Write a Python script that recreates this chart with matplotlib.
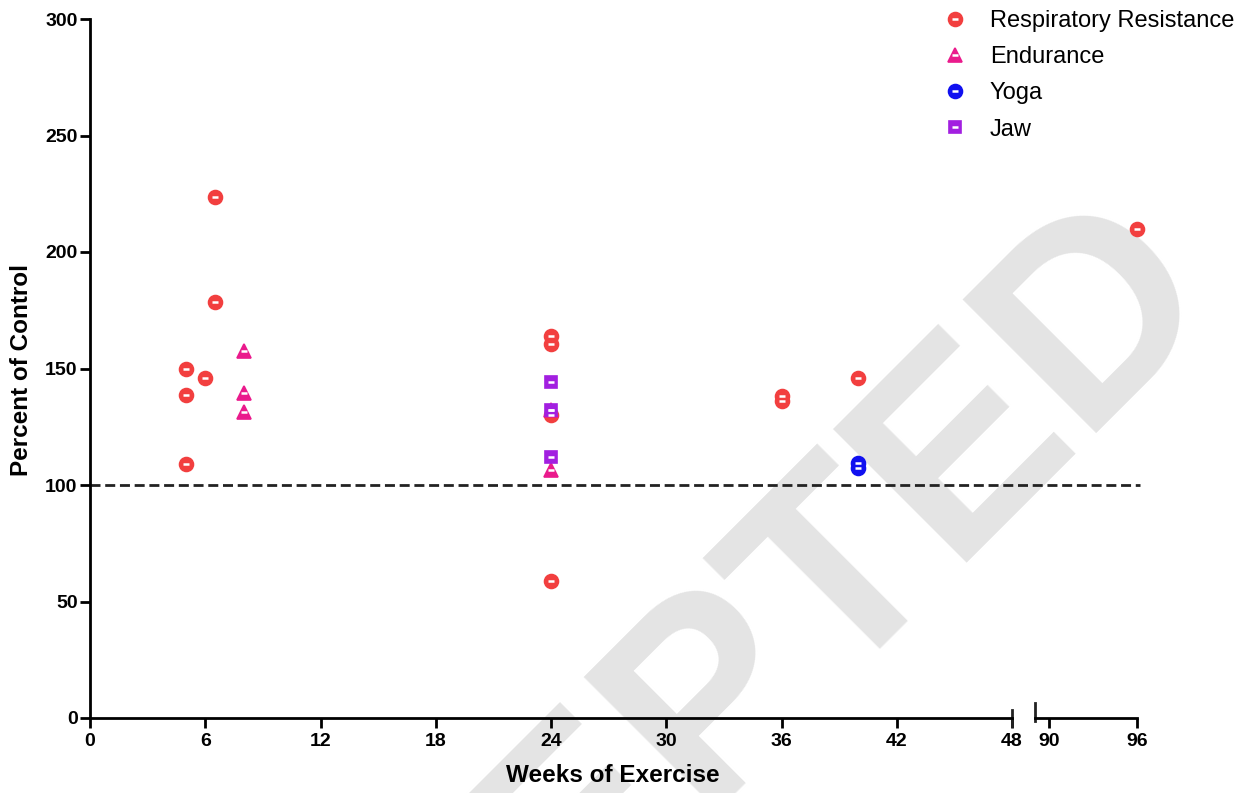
import matplotlib.pyplot as plt
from matplotlib.legend_handler import HandlerTuple

plt.rcParams['font.family'] = ['Liberation Sans', 'DejaVu Sans']

# weeks, percent of control
resp_x = [5, 5, 5, 6, 6.5, 6.5, 24, 24, 24, 24, 36, 36, 40]
resp_y = [150, 138.5, 109, 146, 223.5, 178.5, 164, 160.5, 130, 59, 138, 136, 146]
resp_x2 = [96]
resp_y2 = [210]
endu_x = [8, 8, 8, 24, 24]
endu_y = [157.5, 139.5, 131.5, 106.5, 132]
yoga_x = [40, 40]
yoga_y = [109.5, 107.5]
jaw_x = [24, 24, 24]
jaw_y = [144, 132, 112]

ticks1 = [0, 6, 12, 18, 24, 30, 36, 42, 48]
ticks2 = [90, 96]
yticks = [0, 50, 100, 150, 200, 250, 300]

RED = '#f23f3f'
PINK = '#ea1a8c'
BLUE = '#1010f0'
PURPLE = '#a21fe0'

fig = plt.figure(figsize=(12.55, 7.93), dpi=100)
ax1 = fig.add_axes([90 / 1255, 75 / 793, 922 / 1255, 699 / 793])
ax2 = fig.add_axes([1035 / 1255, 75 / 793, 102 / 1255, 699 / 793], sharey=ax1)

# watermark, behind the axes
fig.text(1222 / 1255, (793 - 300) / 793, 'ACCEPTED', rotation=45, fontsize=198,
         fontweight='bold', color='#e4e4e4', ha='right', va='baseline',
         rotation_mode='anchor', zorder=-1)


def pts(ax, x, y, marker, color, ms=10):
    a, = ax.plot(x, y, linestyle='none', marker=marker, color=color, ms=ms,
                 mec=color, mew=1.2, clip_on=False, zorder=3)
    b, = ax.plot(x, y, linestyle='none', marker='_', color='white', ms=ms * 0.45,
                 mew=1.8, clip_on=False, zorder=4)
    return (a, b)


h_resp = pts(ax1, resp_x, resp_y, 'o', RED)
pts(ax2, resp_x2, resp_y2, 'o', RED)
h_endu = pts(ax1, endu_x, endu_y, '^', PINK)
h_yoga = pts(ax1, yoga_x, yoga_y, 'o', BLUE)
h_jaw = pts(ax1, jaw_x, jaw_y, 's', PURPLE, ms=9)

# reference line at 100, running across the axis break
ax1.plot([0, (1140 - 90) / 922], [100, 100], transform=ax1.get_yaxis_transform(),
         color='#222222', lw=2, ls=(0, (3.6, 1.7)), zorder=2, clip_on=False)

for ax in (ax1, ax2):
    ax.set_facecolor('none')
    ax.spines['top'].set_visible(False)
    ax.spines['right'].set_visible(False)
    ax.spines['bottom'].set_linewidth(2)
    ax.spines['left'].set_linewidth(2)
    ax.tick_params(direction='out', length=7, width=2, labelsize=14, pad=2)

ax1.set_xlim(0, 48)
ax2.set_xlim(89.05, 96)
ax1.set_ylim(0, 300)
ax1.set_xticks(ticks1)
ax2.set_xticks(ticks2)
ax1.set_yticks(yticks)
ax2.spines['left'].set_visible(False)
ax2.tick_params(axis='y', left=False, labelleft=False)
ax1.tick_params(axis='x', pad=4)
ax2.tick_params(axis='x', pad=4)
for ax in (ax1, ax2):
    for lab in ax.get_xticklabels() + ax.get_yticklabels():
        lab.set_fontweight('bold')

# axis break marks
ax1.plot([1, 1], [-0.012, 0.012], transform=ax1.transAxes, color='#222222', lw=2, clip_on=False)
ax2.plot([0, 0], [-0.005, 0.022], transform=ax2.transAxes, color='#222222', lw=2, clip_on=False)

fig.text(613 / 1255, 18 / 793, 'Weeks of Exercise', ha='center', va='center',
         fontsize=17.5, fontweight='bold')
fig.text(22 / 1255, (793 - 370) / 793, 'Percent of Control', ha='center', va='center',
         rotation=90, fontsize=17.5, fontweight='bold')

fig.legend([h_resp, h_endu, h_yoga, h_jaw],
           ['Respiratory Resistance', 'Endurance', 'Yoga', 'Jaw'],
           handler_map={tuple: HandlerTuple(ndivide=1)},
           loc='upper left', bbox_to_anchor=(920 / 1255, 1.014), frameon=False,
           fontsize=17, handlelength=1.2, handletextpad=0.85, labelspacing=0.6)

fig.savefig('out.png', dpi=100)
